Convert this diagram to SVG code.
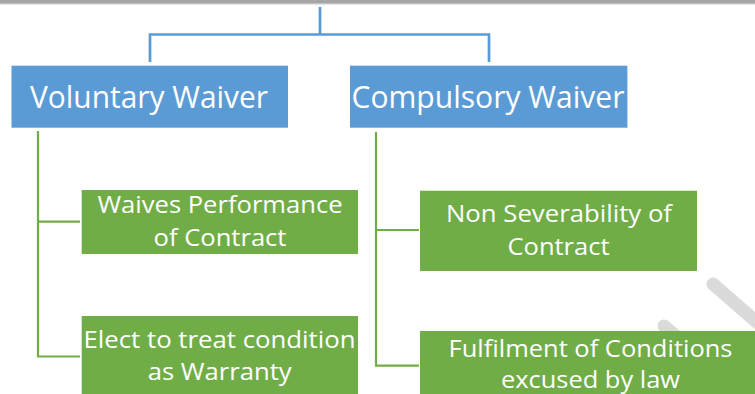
<svg xmlns="http://www.w3.org/2000/svg" width="755" height="394" viewBox="0 0 755 394">
  <style>
    .blue { fill: #5b9bd5; }
    .green { fill: #70ad47; }
    .lbl { font-family: "Open Sans", "Liberation Sans", sans-serif; fill: #ffffff; text-anchor: middle; }
    .big { font-size: 31px; }
    .small { font-size: 24px; }
    .cb { fill: none; stroke: #5b9bd5; stroke-width: 2.7; }
    .cg { fill: none; stroke: #70ad47; stroke-width: 2.2; }
    .mark { stroke: #dadada; stroke-width: 13; stroke-linecap: round; }
  </style>

  <!-- page header rule -->
  <rect x="0" y="0" width="755" height="3.8" fill="#a6a6a6"/>
  <rect x="0" y="3.8" width="755" height="1" fill="#e3e3e3"/>

  <!-- background watermark strokes -->
  <g id="watermark">
    <line class="mark" x1="713" y1="284" x2="775" y2="338"/>
    <line class="mark" x1="664" y1="326" x2="700" y2="356"/>
  </g>

  <g id="connectors">
    <polyline class="cb" points="320,7 320,34.5"/>
    <polyline class="cb" points="150,62 150,34.5 489,34.5 489,62"/>
    <polyline class="cg" points="38,131 38,356.5 80,356.5"/>
    <polyline class="cg" points="38,221.7 80,221.7"/>
    <polyline class="cg" points="376,132 376,365.7 419,365.7"/>
    <polyline class="cg" points="376,230 419,230"/>
  </g>

  <g id="voluntary">
    <rect class="blue" x="11.5" y="65.7" width="276.5" height="62"/>
    <text class="lbl big" x="149" y="107.7" textLength="238" lengthAdjust="spacingAndGlyphs">Voluntary Waiver</text>
  </g>

  <g id="compulsory">
    <rect class="blue" x="350" y="65.7" width="277.4" height="62"/>
    <text class="lbl big" x="488" y="107.7" textLength="273" lengthAdjust="spacingAndGlyphs">Compulsory Waiver</text>
  </g>

  <g id="waives-performance">
    <rect class="green" x="81.7" y="190" width="276.3" height="64"/>
    <text class="lbl small" x="220" y="213.3" textLength="245" lengthAdjust="spacingAndGlyphs">Waives Performance</text>
    <text class="lbl small" x="220" y="246" textLength="133" lengthAdjust="spacingAndGlyphs">of Contract</text>
  </g>

  <g id="elect-warranty">
    <rect class="green" x="81.7" y="316" width="276.3" height="80"/>
    <text class="lbl small" x="219.5" y="347.7" textLength="272" lengthAdjust="spacingAndGlyphs">Elect to treat condition</text>
    <text class="lbl small" x="219.7" y="380" textLength="144" lengthAdjust="spacingAndGlyphs">as Warranty</text>
  </g>

  <g id="non-severability">
    <rect class="green" x="420" y="190.7" width="277" height="80.3"/>
    <text class="lbl small" x="559" y="222.3" textLength="226" lengthAdjust="spacingAndGlyphs">Non Severability of</text>
    <text class="lbl small" x="558.5" y="255" textLength="102" lengthAdjust="spacingAndGlyphs">Contract</text>
  </g>

  <g id="fulfilment">
    <rect class="green" x="420" y="331" width="340" height="65"/>
    <text class="lbl small" x="590.5" y="357.3" textLength="284" lengthAdjust="spacingAndGlyphs">Fulfilment of Conditions</text>
    <text class="lbl small" x="590.5" y="388.3" textLength="179" lengthAdjust="spacingAndGlyphs">excused by law</text>
  </g>
</svg>
